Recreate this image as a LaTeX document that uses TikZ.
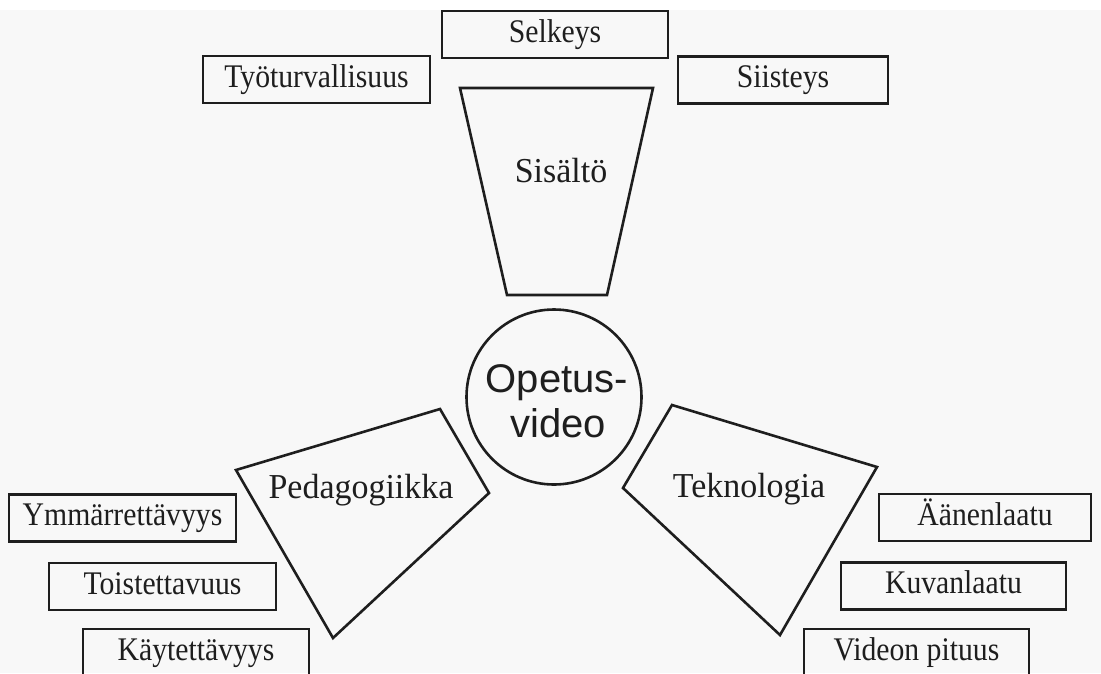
\documentclass[tikz,border=0pt]{standalone}
\usepackage{fontspec}
\setmainfont{Liberation Serif}
\newfontfamily\boxserif{Liberation Serif}[FakeStretch=0.9]
\newfontfamily\shapeserif{Liberation Serif}[FakeStretch=0.97]
\newfontfamily\sansf{Liberation Sans}
\definecolor{ink}{HTML}{1E1E1E}
\definecolor{bg}{HTML}{F8F8F8}
\tikzset{
  lbox/.style={draw=ink, line width=2.6pt, rectangle, inner sep=0pt,
    minimum height=47pt, font=\boxserif\fontsize{33}{36}\selectfont, text=ink,
    text height=22pt, text depth=7pt},
  polyline/.style={draw=ink, line width=2.6pt, line join=miter},
  slabel/.style={anchor=base, font=\shapeserif\fontsize{35}{38}\selectfont, text=ink, inner sep=0pt},
  clabel/.style={anchor=base, font=\sansf\fontsize{40}{45}\selectfont, text=ink, inner sep=0pt}
}
\begin{document}
\begin{tikzpicture}[x=1pt, y=-1pt]
\useasboundingbox (0,0) rectangle (1101,673);
\fill[white] (0,0) rectangle (1101,673);
\fill[bg] (0,10) rectangle (1101,673);
\clip (0,0) rectangle (1101,673);

% top boxes
\node[lbox, minimum width=226pt] (selkeys) at (555,34.5) {Selkeys};
\node[lbox, minimum width=227pt] (tyo) at (316.5,79.5) {Työturvallisuus};
\node[lbox, minimum width=210pt] (siisteys) at (783,80) {Siisteys};

% Sisältö trapezoid
\coordinate (s1) at (460,88);
\coordinate (s2) at (653,88);
\coordinate (s3) at (607,295);
\coordinate (s4) at (507,295);
\draw[polyline] (s1) -- (s2) -- (s3) -- (s4) -- cycle;
\node[slabel] (sisalto) at (561,182) {Sisältö};

% centre circle
\node[draw=ink, line width=2.6pt, circle, minimum size=175pt, inner sep=0pt] (circ) at (554,397) {};
\node[clabel] (op1) at (557,392) {Opetus-};
\node[clabel] (op2) at (558,437) {video};

% Pedagogiikka quadrilateral
\coordinate (p1) at (236,470);
\coordinate (p2) at (440,409);
\coordinate (p3) at (489,493);
\coordinate (p4) at (333,638);
\draw[polyline] (p1) -- (p2) -- (p3) -- (p4) -- cycle;
\node[slabel] (peda) at (361,498) {Pedagogiikka};

% Teknologia quadrilateral
\coordinate (t1) at (672,405);
\coordinate (t2) at (877,467);
\coordinate (t3) at (780,635);
\coordinate (t4) at (623,488);
\draw[polyline] (t1) -- (t2) -- (t3) -- (t4) -- cycle;
\node[slabel] (tekno) at (749,497) {Teknologia};

% left boxes
\node[lbox, minimum width=227pt] (ymm) at (122.5,518) {Ymmärrettävyys};
\node[lbox, minimum width=227pt] (toist) at (162.5,586.5) {Toistettavuus};
\node[lbox, minimum width=226pt] (kayt) at (196,652.5) {Käytettävyys};

% right boxes
\node[lbox, minimum width=212pt] (aanen) at (985,517.5) {Äänenlaatu};
\node[lbox, minimum width=225pt] (kuvan) at (953.5,586) {Kuvanlaatu};
\node[lbox, minimum width=225pt] (videon) at (916.5,652.5) {Videon pituus};
\end{tikzpicture}
\end{document}
